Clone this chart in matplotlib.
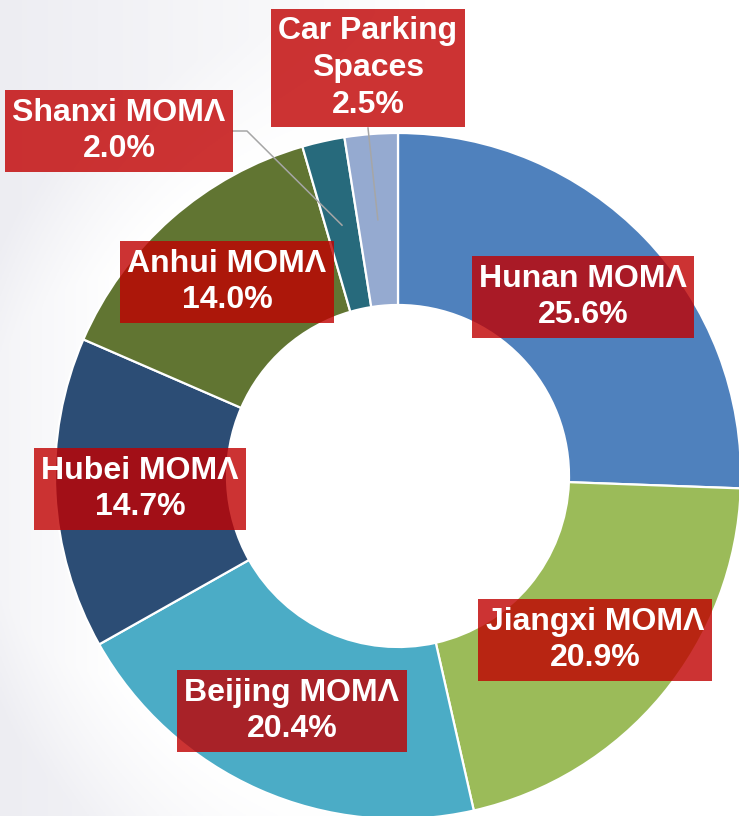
import numpy as np
import matplotlib
matplotlib.use("Agg")
import matplotlib.pyplot as plt
from matplotlib.patches import Circle

# data
labels = ["Hunan MOMΛ", "Jiangxi MOMΛ", "Beijing MOMΛ", "Hubei MOMΛ",
          "Anhui MOMΛ", "Shanxi MOMΛ", "Car Parking\nSpaces"]
shares = [25.6, 20.9, 20.4, 14.7, 14.0, 2.0, 2.5]
colors = ["#4F81BD", "#9BBB59", "#4BACC6", "#2C4D75",
          "#617532", "#276A7C", "#95AAD0"]

# layout in pixel units (y up)
W, H = 739, 816
cx, cy = 398, 816 - 476
r_out, r_in = 343, 171
label_pos = {
    "Hunan MOMΛ": (583, 816 - 297),
    "Jiangxi MOMΛ": (595, 816 - 640),
    "Beijing MOMΛ": (292, 816 - 711),
    "Hubei MOMΛ": (140, 816 - 489),
    "Anhui MOMΛ": (227, 816 - 282),
    "Shanxi MOMΛ": (119, 816 - 131),
    "Car Parking\nSpaces": (368, 816 - 68),
}

fig = plt.figure(figsize=(W / 100, H / 100), dpi=100)
ax = fig.add_axes([0, 0, 1, 1])

# light background: grey on the left, fading to white towards the ring
n = 400
gx, gy = np.meshgrid(np.linspace(0, W, n), np.linspace(H, 0, n))
dist = np.hypot(gx - cx, gy - cy)
fade = np.clip((dist - r_out) / 120, 0, 1) * np.clip(1 - gx / 450, 0, 1)
fade = np.maximum(fade, np.clip(1 - gx / 120, 0, 1) * 0.6)
bg = np.ones((n, n, 3))
bg[..., 0] -= fade * 0.07
bg[..., 1] -= fade * 0.07
bg[..., 2] -= fade * 0.05
ax.imshow(bg, extent=[0, W, 0, H], origin="upper", zorder=0, aspect="auto")

# white hole
ax.add_patch(Circle((cx, cy), r_in, facecolor="white", edgecolor="none",
                    zorder=0.6))

wedges, _ = ax.pie(
    shares,
    colors=colors,
    startangle=90,
    counterclock=False,
    radius=r_out,
    center=(cx, cy),
    wedgeprops=dict(width=r_out - r_in, edgecolor="white", linewidth=1.6),
)

total = sum(shares)
for lab, val, w in zip(labels, shares, wedges):
    tx, ty = label_pos[lab]
    ax.text(
        tx, ty, f"{lab}\n{val / total * 100:.1f}%",
        ha="center", va="center",
        color="white", fontsize=23, fontweight="bold",
        family=["Liberation Sans", "DejaVu Sans"],
        linespacing=1.3, zorder=5,
        bbox=dict(boxstyle="square,pad=0.23", facecolor="#C00000",
                  edgecolor="none", alpha=0.8),
    )
    # leader lines for the two thin slices
    if val < 5:
        mid = np.deg2rad((w.theta1 + w.theta2) / 2)
        r_mid = (r_out + r_in) / 2
        ex, ey = cx + r_mid * np.cos(mid), cy + r_mid * np.sin(mid)
        if lab.startswith("Shanxi"):
            xs_l = [233, 247, ex]
            ys_l = [816 - 131, 816 - 131, ey]
        else:
            xs_l = [tx, ex]
            ys_l = [816 - 128, ey]
        ax.plot(xs_l, ys_l, color="#A6A6A6", lw=1.1, zorder=4)

ax.set_xlim(0, W)
ax.set_ylim(0, H)
ax.set_aspect("equal")
ax.axis("off")

fig.savefig("out.png", dpi=100)
